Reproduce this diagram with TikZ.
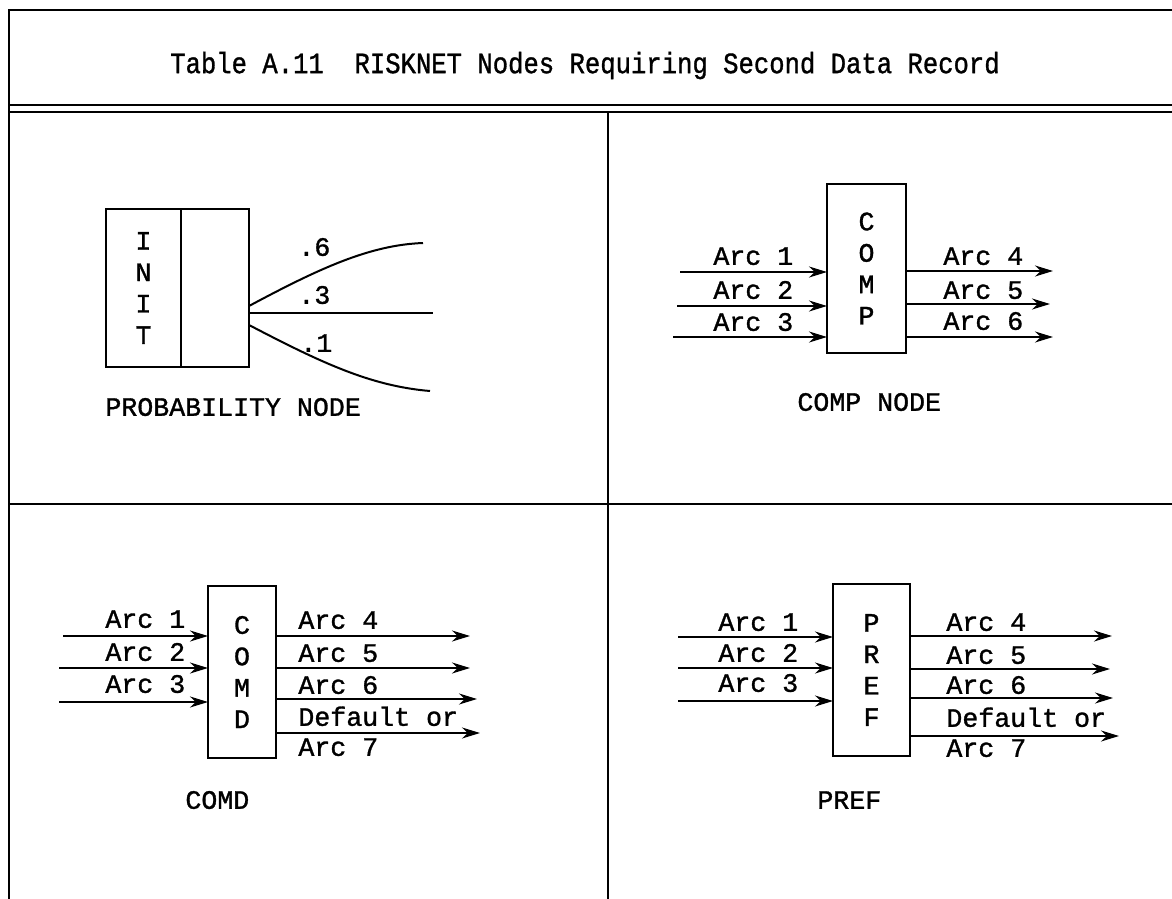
\documentclass[tikz,border=0pt]{standalone}
\usepackage{fontspec}
\usepackage{tikz}
\usetikzlibrary{arrows.meta, positioning}
\newfontfamily\tw[FakeBold=1.2]{Liberation Mono}
\newcommand\twfont{\tw\fontsize{13.3}{15.7}\selectfont}
\newcommand\titlefont{\tw\fontsize{12.8}{15.7}\selectfont}

\begin{document}
\begin{tikzpicture}[
    x=0.5pt, y=-0.5pt,
    rule/.style={line width=1.4pt},
    unitbox/.style={draw, line width=1pt, inner sep=0pt, outer sep=0pt, align=center, font=\twfont},
    lbl/.style={inner sep=0pt, anchor=west, text height=8.8pt, text depth=0pt, font=\twfont},
    arc/.style={line width=1pt, -{Stealth[length=9pt, width=5.5pt]}},
    branch/.style={line width=1pt}
]
    \useasboundingbox (0,0) rectangle (1172,899);

    % Table frame
    \draw[rule] (1172,10) -- (9,10) -- (9,899);
    \draw[rule] (9,105) -- (1172,105);
    \draw[rule] (9,112) -- (1172,112);
    \draw[rule] (9,504) -- (1172,504);
    \draw[rule] (608,112) -- (608,899);

    % Title
    \node (title) [inner sep=0pt, text height=8.8pt, text depth=0pt, font=\titlefont, yscale=1.15] at (585,63)
        {Table A.11\ \ RISKNET Nodes Requiring Second Data Record};

    % Probability node
    \node (init) [unitbox, minimum width=37.5pt, minimum height=79pt] at (143.5,288) {I\\N\\I\\T};
    \node (initrec) [unitbox, minimum width=34pt, minimum height=79pt, right=0pt of init] {};
    \coordinate (p6) at (423,243);
    \coordinate (p3) at (433,313);
    \coordinate (p1) at (430,391);
    \draw[branch] (initrec.east) ++(0,18) .. controls (320,268) and (370,245) .. (p6);
    \draw[branch] (initrec.east) ++(0,25) -- (p3);
    \draw[branch] (initrec.east) ++(0,37) .. controls (320,362) and (370,386) .. (p1);
    \node (l6) [lbl] at (298,247) {.6};
    \node (l3) [lbl] at (298,295) {.3};
    \node (l1) [lbl] at (300,343) {.1};
    \node (probcap) [lbl] at (105,407) {PROBABILITY NODE};

    % COMP node
    \node (comp) [unitbox, minimum width=39.5pt, minimum height=84.5pt] at (866.5,268.5) {C\\O\\M\\P};
    \coordinate (ci1) at (680,272);
    \coordinate (ci2) at (677,306);
    \coordinate (ci3) at (673,337);
    \coordinate (co4) at (1053,271);
    \coordinate (co5) at (1050,304);
    \coordinate (co6) at (1053,337);
    \draw[arc] (ci1) -- (ci1 -| comp.west);
    \draw[arc] (ci2) -- (ci2 -| comp.west);
    \draw[arc] (ci3) -- (ci3 -| comp.west);
    \draw[arc] (co4 -| comp.east) -- (co4);
    \draw[arc] (co5 -| comp.east) -- (co5);
    \draw[arc] (co6 -| comp.east) -- (co6);
    \node (compa1) [lbl] at (713,256) {Arc 1};
    \node (compa2) [lbl] at (713,290) {Arc 2};
    \node (compa3) [lbl] at (713,322) {Arc 3};
    \node (compa4) [lbl] at (943,256) {Arc 4};
    \node (compa5) [lbl] at (943,290) {Arc 5};
    \node (compa6) [lbl] at (943,321) {Arc 6};
    \node (compcap) [lbl] at (797,402) {COMP NODE};

    % COMD node
    \node (comd) [unitbox, minimum width=34pt, minimum height=86pt] at (242,672) {C\\O\\M\\D};
    \coordinate (di1) at (63,636);
    \coordinate (di2) at (59,668);
    \coordinate (di3) at (59,702);
    \coordinate (do4) at (470,636);
    \coordinate (do5) at (470,668);
    \coordinate (do6) at (477,699);
    \coordinate (do7) at (480,733);
    \draw[arc] (di1) -- (di1 -| comd.west);
    \draw[arc] (di2) -- (di2 -| comd.west);
    \draw[arc] (di3) -- (di3 -| comd.west);
    \draw[arc] (do4 -| comd.east) -- (do4);
    \draw[arc] (do5 -| comd.east) -- (do5);
    \draw[arc] (do6 -| comd.east) -- (do6);
    \draw[arc] (do7 -| comd.east) -- (do7);
    \node (comda1) [lbl] at (105,619) {Arc 1};
    \node (comda2) [lbl] at (105,652) {Arc 2};
    \node (comda3) [lbl] at (105,684) {Arc 3};
    \node (comda4) [lbl] at (298,620) {Arc 4};
    \node (comda5) [lbl] at (298,653) {Arc 5};
    \node (comda6) [lbl] at (298,685) {Arc 6};
    \node (comddf) [lbl] at (298,717) {Default or};
    \node (comda7) [lbl] at (298,747) {Arc 7};
    \node (comdcap) [lbl] at (185,800) {COMD};

    % PREF node
    \node (pref) [unitbox, minimum width=38.5pt, minimum height=86pt] at (871.5,670) {P\\R\\E\\F};
    \coordinate (ri1) at (678,637);
    \coordinate (ri2) at (678,668);
    \coordinate (ri3) at (678,701);
    \coordinate (ro4) at (1112,636);
    \coordinate (ro5) at (1110,669);
    \coordinate (ro6) at (1113,698);
    \coordinate (ro7) at (1119,736);
    \draw[arc] (ri1) -- (ri1 -| pref.west);
    \draw[arc] (ri2) -- (ri2 -| pref.west);
    \draw[arc] (ri3) -- (ri3 -| pref.west);
    \draw[arc] (ro4 -| pref.east) -- (ro4);
    \draw[arc] (ro5 -| pref.east) -- (ro5);
    \draw[arc] (ro6 -| pref.east) -- (ro6);
    \draw[arc] (ro7 -| pref.east) -- (ro7);
    \node (prefa1) [lbl] at (718,622) {Arc 1};
    \node (prefa2) [lbl] at (718,653) {Arc 2};
    \node (prefa3) [lbl] at (718,683) {Arc 3};
    \node (prefa4) [lbl] at (946,622) {Arc 4};
    \node (prefa5) [lbl] at (946,655) {Arc 5};
    \node (prefa6) [lbl] at (946,685) {Arc 6};
    \node (prefdf) [lbl] at (946,718) {Default or};
    \node (prefa7) [lbl] at (946,748) {Arc 7};
    \node (prefcap) [lbl] at (817,800) {PREF};

\end{tikzpicture}
\end{document}
